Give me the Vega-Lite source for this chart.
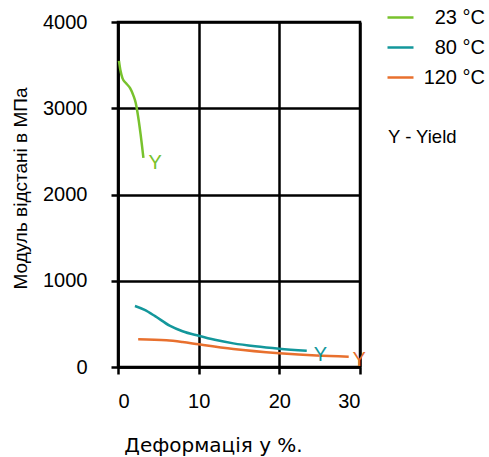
{
  "$schema": "https://vega.github.io/schema/vega-lite/v6.json",
  "width": 242,
  "height": 345,
  "autosize": "none",
  "padding": {"left": 118, "top": 22, "right": 129, "bottom": 90},
  "background": "white",
  "title": {
    "text": "Y - Yield",
    "anchor": "start",
    "frame": "group",
    "orient": "top",
    "dx": 270,
    "dy": 152,
    "fontSize": 18.5,
    "fontWeight": "normal",
    "font": "Liberation Sans",
    "color": "black",
    "baseline": "middle",
    "offset": 0
  },
  "datasets": {
    "curves": [
      {"series": "23 °C", "x": 0.12, "y": 3550},
      {"series": "23 °C", "x": 0.3, "y": 3440},
      {"series": "23 °C", "x": 0.55, "y": 3350},
      {"series": "23 °C", "x": 1.0, "y": 3290},
      {"series": "23 °C", "x": 1.5, "y": 3233},
      {"series": "23 °C", "x": 1.9, "y": 3150},
      {"series": "23 °C", "x": 2.2, "y": 3060},
      {"series": "23 °C", "x": 2.4, "y": 2960},
      {"series": "23 °C", "x": 2.8, "y": 2700},
      {"series": "23 °C", "x": 3.15, "y": 2424},
      {"series": "80 °C", "x": 2.1, "y": 707},
      {"series": "80 °C", "x": 3.3, "y": 662},
      {"series": "80 °C", "x": 4.6, "y": 590},
      {"series": "80 °C", "x": 6.4, "y": 480},
      {"series": "80 °C", "x": 8.0, "y": 415},
      {"series": "80 °C", "x": 10.0, "y": 362},
      {"series": "80 °C", "x": 12.0, "y": 315},
      {"series": "80 °C", "x": 14.3, "y": 274},
      {"series": "80 °C", "x": 17.0, "y": 240},
      {"series": "80 °C", "x": 20.0, "y": 212},
      {"series": "80 °C", "x": 23.4, "y": 189},
      {"series": "120 °C", "x": 2.5, "y": 321},
      {"series": "120 °C", "x": 6.0, "y": 310},
      {"series": "120 °C", "x": 8.0, "y": 290},
      {"series": "120 °C", "x": 10.0, "y": 263},
      {"series": "120 °C", "x": 14.3, "y": 209},
      {"series": "120 °C", "x": 20.0, "y": 160},
      {"series": "120 °C", "x": 24.6, "y": 133},
      {"series": "120 °C", "x": 28.6, "y": 120}
    ],
    "yields": [
      {"series": "23 °C", "x": 4.6, "y": 2370, "label": "Y"},
      {"series": "80 °C", "x": 25.1, "y": 139, "label": "Y"},
      {"series": "120 °C", "x": 29.9, "y": 81, "label": "Y"}
    ]
  },
  "layer": [
    {
      "data": {"name": "curves"},
      "mark": {"type": "line", "strokeWidth": 2.5, "interpolate": "monotone", "clip": false},
      "encoding": {
        "x": {
          "field": "x", "type": "quantitative",
          "scale": {"domain": [0, 30], "nice": false, "zero": false},
          "axis": {
            "values": [0, 10, 20, 30],
            "format": "d",
            "title": "Деформація у %.",
            "titleFont": "DejaVu Sans",
            "titleFontSize": 20,
            "titleX": 95,
            "titleY": 78,
            "titleAlign": "center",
            "titleBaseline": "middle",
            "labelPadding": 17
          }
        },
        "y": {
          "field": "y", "type": "quantitative",
          "scale": {"domain": [0, 4000], "nice": false},
          "axis": {
            "values": [0, 1000, 2000, 3000, 4000],
            "format": "d",
            "title": "Модуль відстані в МПа",
            "titleFontSize": 19,
            "titleX": -98,
            "titleY": 166,
            "titleAlign": "center",
            "titleBaseline": "middle",
            "labelPadding": 24
          }
        },
        "color": {
          "field": "series", "type": "nominal",
          "scale": {"domain": ["23 °C", "80 °C", "120 °C"], "range": ["#78C22D", "#13979B", "#E8702E"]},
          "legend": {
            "title": null,
            "orient": "none",
            "legendX": 268,
            "legendY": -19,
            "symbolType": "stroke",
            "symbolSize": 676,
            "symbolStrokeWidth": 2.5,
            "labelAlign": "right",
            "labelOffset": 70,
            "labelFontSize": 20,
            "labelFont": "Liberation Sans",
            "labelColor": "black",
            "rowPadding": 5,
            "labelLimit": 200
          }
        },
        "detail": {"field": "series"}
      }
    },
    {
      "data": {"name": "yields"},
      "mark": {"type": "text", "fontSize": 20, "font": "Liberation Sans", "align": "center", "baseline": "middle", "clip": false},
      "encoding": {
        "x": {"field": "x", "type": "quantitative"},
        "y": {"field": "y", "type": "quantitative"},
        "text": {"field": "label"},
        "color": {"field": "series", "type": "nominal"}
      }
    }
  ],
  "config": {
    "view": {"stroke": "black", "strokeWidth": 2.5},
    "axis": {
      "grid": true,
      "gridColor": "black",
      "gridWidth": 2.5,
      "gridOpacity": 1,
      "domainColor": "black",
      "domainWidth": 2.5,
      "tickColor": "black",
      "tickWidth": 2.5,
      "tickSize": 7,
      "labelFont": "Liberation Sans",
      "labelFontSize": 20,
      "labelColor": "black",
      "titleFont": "Liberation Sans",
      "titleFontSize": 19,
      "titleFontWeight": "normal",
      "titleColor": "black"
    }
  }
}
